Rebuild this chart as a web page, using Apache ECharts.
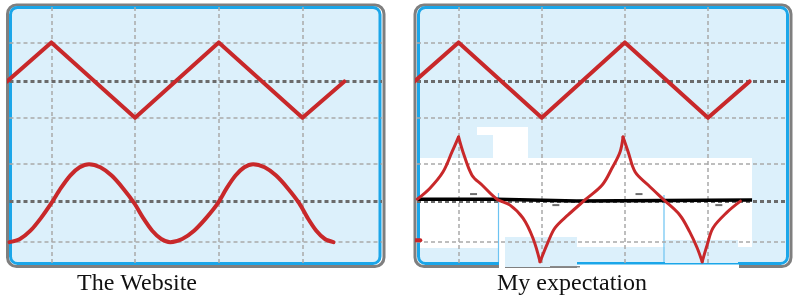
<!DOCTYPE html>
<html><head><meta charset="utf-8">
<script src="https://cdn.jsdelivr.net/npm/echarts@6/dist/echarts.min.js"></script>
<style>html,body{margin:0;padding:0;background:#fff}#c{width:800px;height:298px}</style>
</head><body><div id="c"></div>
<script>
// ---- captions ----
const captions = ['The Website', 'My expectation'];
// ---- screen grid (units = divisions) ----
const vGridX = [0, 1, 2, 3];
const hGridLight = [0.53, 2.51, 3.69, 5.6];
const hGridDark = [1.56, 4.61];
// ---- triangle wave (both panels) ----
const triX = [-0.53, 0, 1, 2, 3, 3.5];
const triY = [4.61, 5.6, 3.69, 5.6, 3.69, 4.61];
// ---- sine-like wave (left panel) ----
const sineX = [-0.5, -0.375, -0.25, -0.125, 0, 0.113, 0.225, 0.338, 0.45, 0.585, 0.72, 0.855, 0.99,
               1.098, 1.205, 1.313, 1.42, 1.563, 1.705, 1.848, 1.99, 2.095, 2.2, 2.305, 2.41,
               2.548, 2.685, 2.823, 2.96, 3.063, 3.165, 3.268, 3.37];
const sineY = [0.53, 0.61, 0.82, 1.14, 1.52, 1.9, 2.22, 2.43, 2.51, 2.43, 2.22, 1.9, 1.52,
               1.14, 0.82, 0.61, 0.53, 0.61, 0.82, 1.14, 1.52, 1.9, 2.22, 2.43, 2.51,
               2.43, 2.22, 1.9, 1.52, 1.14, 0.82, 0.61, 0.53];
// ---- cusp wave (right panel) ----
const cuspX = [-0.497, -0.344, -0.188, -0.079, 0.0, 0.053, 0.161, 0.282, 0.462, 0.619, 0.775, 0.895, 0.98,
               1.076, 1.16, 1.317, 1.52, 1.727, 1.846, 1.942, 1.978, 2.04, 2.124, 2.28, 2.47, 2.66, 2.78, 2.87, 2.93,
               2.99, 3.06, 3.23, 3.39];
const cuspY = [1.62, 1.9, 2.31, 2.82, 3.2, 2.82, 2.23, 1.98, 1.62, 1.47, 1.14, 0.63, 0.03,
               0.53, 0.89, 1.22, 1.6, 1.98, 2.41, 2.82, 3.2, 2.82, 2.31, 1.98, 1.6, 1.22, 0.79, 0.38, 0.03,
               0.46, 0.89, 1.29, 1.57];
const cuspCorners = [4, 12, 20, 28];
// ---- black baseline (right panel) ----
const baseX = [-0.49, 0.46, 0.46, 1.42, 1.42, 3.53];
const baseY = [1.62, 1.62, 1.575, 1.575, 1.6, 1.6];
// ---- small minus marks (right panel) ----
const minusX = [0.18, 1.17, 2.17, 3.13];
const minusY = [1.75, 1.47, 1.75, 1.47];
// ---- red stub at left of right panel ----
const stubX = [-0.55, -0.46];
const stubY = [0.58, 0.58];

const xy = (xs, ys) => xs.map((x, i) => [x, ys[i]]);
const RED = '#c8282a';
const BG = '#dcf0fb';

function gridLineSeries(i) {
  return {
    type: 'line', xAxisIndex: i, yAxisIndex: i, data: [], z: 1, silent: true,
    markLine: {
      silent: true, symbol: ['none', 'none'], animation: false, label: {show: false},
      emphasis: {disabled: true},
      lineStyle: {color: '#a9a9a9', width: 1.5, type: [4, 3]},
      data: [
        ...vGridX.map(v => ({xAxis: v})),
        ...hGridLight.map(v => ({yAxis: v})),
        ...hGridDark.map(v => ({yAxis: v, lineStyle: {color: '#6b6b6b', width: 3, type: [4, 3]}}))
      ]
    }
  };
}
function lineSeries(i, data, color, width, extra) {
  return Object.assign({
    type: 'line', xAxisIndex: i, yAxisIndex: i, data: data, symbol: 'none', showSymbol: false,
    clip: false, silent: true, z: 10, lineStyle: {color: color, width: width, cap: 'round', join: 'round'}
  }, extra || {});
}

const cuspPts = xy(cuspX, cuspY);
const breaks = [0, ...cuspCorners, cuspPts.length - 1];
const cuspSeries = [];
for (let k = 0; k < breaks.length - 1; k++) {
  cuspSeries.push(lineSeries(1, cuspPts.slice(breaks[k], breaks[k + 1] + 1), RED, 3, {smooth: 0.35}));
}

const panels = [
  {gx: 7.5, gw: 376.5, bx: 10.5, bw: 369.5, cx: 137},
  {gx: 415, gw: 376, bx: 418.5, bw: 369, cx: 572}
];
const graphics = [];
panels.forEach((p, i) => {
  graphics.push({type: 'rect', z: 0, silent: true, shape: {x: p.bx, y: 7.5, width: p.bw, height: 256, r: 7}, style: {fill: BG}});
  graphics.push({type: 'rect', z: 3, silent: true, shape: {x: p.gx, y: 5, width: p.gw, height: 261.5, r: 9}, style: {fill: 'none', stroke: '#7f7f7f', lineWidth: 3}});
  graphics.push({type: 'rect', z: 3, silent: true, shape: {x: p.bx, y: 7.5, width: p.bw, height: 256, r: 7}, style: {fill: 'none', stroke: '#1ba6e9', lineWidth: 3}});
  graphics.push({type: 'text', z: 10, silent: true, x: p.cx, y: 284,
    style: {text: captions[i], font: '24px "Liberation Serif", serif', fill: '#111', textAlign: 'center', textVerticalAlign: 'middle'}});
});
// pasted white / light-blue patches in the right panel
const patch = (x, y, w, h, fill) => graphics.push({type: 'rect', z: 4, silent: true, shape: {x, y, width: w, height: h}, style: {fill}});
patch(477, 127, 51, 8, '#fff');
patch(493, 133, 35, 27, '#fff');
patch(420, 158, 332, 42, '#fff');
patch(420, 200, 79, 48, '#fff');
patch(499, 200, 6, 69, '#fff');
patch(505, 200, 72, 37, '#fff');
patch(577, 200, 88, 47, '#fff');
patch(665, 200, 87, 40, '#fff');
patch(738, 235, 14, 12, '#fff');
patch(505, 237, 72, 30, BG);
patch(665, 240, 73, 23, BG);
patch(577, 264.5, 162, 5, '#fff');
patch(550, 266, 30, 1.5, '#8a8a8a');
graphics.push({type: 'line', z: 5, silent: true, shape: {x1: 498.5, y1: 193, x2: 498.5, y2: 262}, style: {stroke: '#6cc3f2', lineWidth: 1.2}});
graphics.push({type: 'line', z: 5, silent: true, shape: {x1: 664, y1: 195, x2: 664, y2: 262}, style: {stroke: '#6cc3f2', lineWidth: 1.2}});

const option = {
  animation: false,
  backgroundColor: '#fff',
  grid: [
    {left: 9.5, top: 7, width: 372.5, height: 256},
    {left: 417, top: 7, width: 370, height: 256}
  ],
  xAxis: [0, 1].map(i => ({type: 'value', gridIndex: i, min: -0.5, max: 3.95, show: false})),
  yAxis: [0, 1].map(i => ({type: 'value', gridIndex: i, min: 0, max: 6.5, show: false})),
  graphic: {elements: graphics},
  series: [
    gridLineSeries(0),
    gridLineSeries(1),
    lineSeries(0, xy(triX, triY), RED, 4),
    lineSeries(1, xy(triX, triY), RED, 4),
    lineSeries(0, xy(sineX, sineY), RED, 4, {smooth: 0.3}),
    lineSeries(1, xy(baseX, baseY), '#000', 3.5, {z: 9, lineStyle: {color: '#000', width: 3.5, cap: 'butt', join: 'miter'}}),
    ...cuspSeries,
    lineSeries(1, xy(stubX, stubY), RED, 4),
    {type: 'scatter', xAxisIndex: 1, yAxisIndex: 1, data: xy(minusX, minusY), symbol: 'rect', symbolSize: [7, 2],
     itemStyle: {color: '#4a4a4a'}, silent: true, z: 9}
  ]
};
const chart = echarts.init(document.getElementById('c'), null, {renderer: 'canvas'});
chart.setOption(option);
</script></body></html>
